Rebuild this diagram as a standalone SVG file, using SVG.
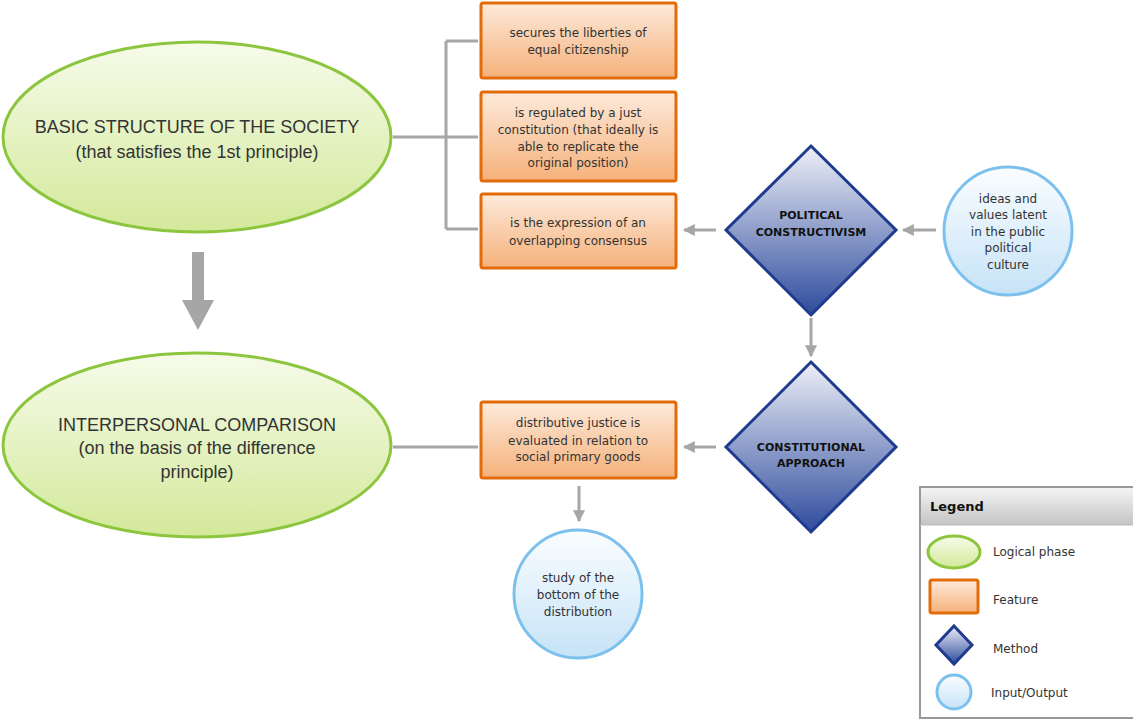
<svg xmlns="http://www.w3.org/2000/svg" width="1133" height="721" viewBox="0 0 1133 721">
<defs>
<linearGradient id="gEll" x1="0" y1="0" x2="0" y2="1"><stop offset="0" stop-color="#f6fbea"/><stop offset="1" stop-color="#d3e99a"/></linearGradient>
<linearGradient id="gBox" x1="0" y1="0" x2="0" y2="1"><stop offset="0" stop-color="#fdeadb"/><stop offset="1" stop-color="#f5b17a"/></linearGradient>
<linearGradient id="gDia" x1="0" y1="0" x2="0" y2="1"><stop offset="0" stop-color="#eef0f8"/><stop offset="1" stop-color="#2e4b9c"/></linearGradient>
<linearGradient id="gCir" x1="0" y1="0" x2="0" y2="1"><stop offset="0" stop-color="#fbfdff"/><stop offset="1" stop-color="#c6e3f7"/></linearGradient>
<linearGradient id="gHead" x1="0" y1="0" x2="0" y2="1"><stop offset="0" stop-color="#f4f4f4"/><stop offset="1" stop-color="#c4c4c4"/></linearGradient>
<marker id="ah" viewBox="0 0 10 10" refX="9" refY="5" markerWidth="4" markerHeight="4" orient="auto" markerUnits="strokeWidth"><path d="M0,0 L10,5 L0,10 Z" fill="#a6a6a6"/></marker>
</defs>
<style>
.ell{fill:url(#gEll);stroke:#8cc63f;stroke-width:3}
.box{fill:url(#gBox);stroke:#e36c0a;stroke-width:3}
.dia{fill:url(#gDia);stroke:#1f3b8f;stroke-width:3}
.cir{fill:url(#gCir);stroke:#7cc1ee;stroke-width:3}
.con{fill:none;stroke:#a6a6a6;stroke-width:3}
.t{font-family:"DejaVu Sans",Verdana,sans-serif;fill:#333;text-anchor:middle;dominant-baseline:central}
.big{font-family:"Liberation Sans",Arial,sans-serif;font-size:18px}
.sm{font-size:12px}
.b{font-size:11px;font-weight:bold;fill:#111}
.lt{font-family:"DejaVu Sans",Verdana,sans-serif;font-size:12px;fill:#333;dominant-baseline:central}
</style>
<rect width="1133" height="721" fill="#fff"/>
<g id="connectors">
<path class="con" d="M393,137 H446 M446,41 V229 M446,41 H478 M446,137 H478 M446,229 H478"/>
<path class="con" d="M393,447 H478"/>
<line class="con" x1="716" y1="230" x2="684" y2="230" marker-end="url(#ah)"/>
<line class="con" x1="936" y1="230" x2="903" y2="230" marker-end="url(#ah)"/>
<line class="con" x1="811" y1="318" x2="811" y2="356" marker-end="url(#ah)"/>
<line class="con" x1="716" y1="447" x2="684" y2="447" marker-end="url(#ah)"/>
<line class="con" x1="579" y1="486" x2="579" y2="521" marker-end="url(#ah)"/>
<path d="M192,252 H204 V300 H214 L198,330 L182,300 H192 Z" fill="#a6a6a6"/>
</g>
<g id="basic">
<ellipse class="ell" cx="197" cy="137" rx="194" ry="95"/>
<text class="t big" x="197" y="127">BASIC STRUCTURE OF THE SOCIETY</text>
<text class="t big" x="197" y="152">(that satisfies the 1st principle)</text>
</g>
<g id="interpersonal">
<ellipse class="ell" cx="197" cy="445" rx="194" ry="92"/>
<text class="t big" x="197" y="425">INTERPERSONAL COMPARISON</text>
<text class="t big" x="197" y="448">(on the basis of the difference</text>
<text class="t big" x="197" y="472">principle)</text>
</g>
<g id="f1">
<rect class="box" x="481" y="3" width="195" height="75" rx="2"/>
<text class="t sm" x="578" y="33">secures the liberties of</text>
<text class="t sm" x="578" y="50">equal citizenship</text>
</g>
<g id="f2">
<rect class="box" x="481" y="92" width="195" height="89" rx="2"/>
<text class="t sm" x="578" y="113">is regulated by a just</text>
<text class="t sm" x="578" y="130">constitution (that ideally is</text>
<text class="t sm" x="578" y="147">able to replicate the</text>
<text class="t sm" x="578" y="163">original position)</text>
</g>
<g id="f3">
<rect class="box" x="481" y="194" width="195" height="74" rx="2"/>
<text class="t sm" x="578" y="223">is the expression of an</text>
<text class="t sm" x="578" y="241">overlapping consensus</text>
</g>
<g id="f4">
<rect class="box" x="481" y="402" width="195" height="76" rx="2"/>
<text class="t sm" x="578" y="423">distributive justice is</text>
<text class="t sm" x="578" y="441">evaluated in relation to</text>
<text class="t sm" x="578" y="457">social primary goods</text>
</g>
<g id="m1">
<polygon class="dia" points="811,146 896,230 811,315 726,230"/>
<text class="t b" x="811" y="215">POLITICAL</text>
<text class="t b" x="811" y="232">CONSTRUCTIVISM</text>
</g>
<g id="m2">
<polygon class="dia" points="811,362 896,447 811,532 726,447"/>
<text class="t b" x="811" y="447">CONSTITUTIONAL</text>
<text class="t b" x="811" y="463">APPROACH</text>
</g>
<g id="io1">
<circle class="cir" cx="1008" cy="231" r="64"/>
<text class="t sm" x="1008" y="199">ideas and</text>
<text class="t sm" x="1008" y="215">values latent</text>
<text class="t sm" x="1008" y="232">in the public</text>
<text class="t sm" x="1008" y="248">political</text>
<text class="t sm" x="1008" y="265">culture</text>
</g>
<g id="io2">
<circle class="cir" cx="578" cy="594" r="64"/>
<text class="t sm" x="578" y="578">study of the</text>
<text class="t sm" x="578" y="595">bottom of the</text>
<text class="t sm" x="578" y="612">distribution</text>
</g>
<g id="legend">
<rect x="920" y="487" width="220" height="231" fill="#fff" stroke="#999" stroke-width="2"/>
<rect x="921" y="488" width="218" height="37" fill="url(#gHead)"/>
<line x1="920" y1="525" x2="1140" y2="525" stroke="#bbb" stroke-width="1"/>
<text x="930" y="506" font-family="'DejaVu Sans',Verdana,sans-serif" font-size="13" font-weight="bold" fill="#111" dominant-baseline="central">Legend</text>
<ellipse class="ell" cx="954" cy="552" rx="26" ry="16"/>
<text class="lt" x="993" y="552">Logical phase</text>
<rect class="box" x="930" y="580" width="48" height="33" rx="2"/>
<text class="lt" x="993" y="600">Feature</text>
<polygon class="dia" points="954,626 972,645 954,664 936,645"/>
<text class="lt" x="993" y="649">Method</text>
<circle class="cir" cx="954" cy="692" r="17"/>
<text class="lt" x="991" y="693">Input/Output</text>
</g>
</svg>
